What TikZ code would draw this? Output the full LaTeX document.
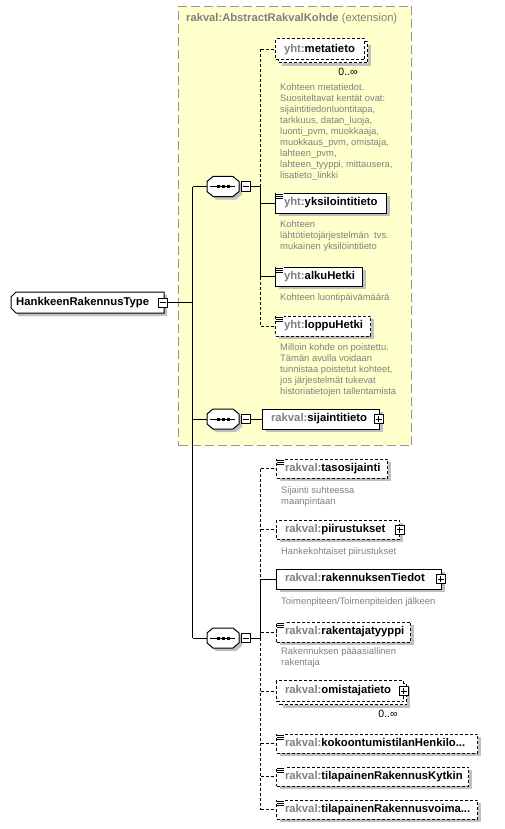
\documentclass[tikz,border=0pt]{standalone}
\usepackage{fontspec}
\setmainfont{Liberation Sans}
\usetikzlibrary{shadows}
\definecolor{ylw}{RGB}{255,255,204}
\definecolor{shd}{RGB}{192,192,192}
\definecolor{pfxc}{RGB}{128,128,128}
\definecolor{dsc}{RGB}{128,128,128}
\definecolor{ebrd}{RGB}{150,150,150}
\newcommand{\en}[2]{\mbox{\textcolor{pfxc}{#1}#2}}
\newcommand{\mnbox}[2]{\node[pm] (#1) at (#2) {};
  \draw[line width=1pt] ([xshift=2pt]#1.west) -- ([xshift=-2pt]#1.east);}
\newcommand{\plbox}[2]{\node[pm] (#1) at (#2) {};
  \draw[line width=1pt] ([xshift=2pt]#1.west) -- ([xshift=-2pt]#1.east);
  \draw[line width=1pt] ([yshift=-2pt]#1.north) -- ([yshift=2pt]#1.south);}
\newcommand{\lnicon}[1]{\fill[white] ([xshift=0.5pt,yshift=-0.5pt]#1.north west) rectangle ++(8,7);
  \foreach \k in {1.5,3.5,5.5} \draw[line width=0.9pt] ([xshift=1pt,yshift=-\k pt]#1.north west) -- ++(7,0);}
\tikzset{
  elns/.style={draw=black, line width=1pt, fill=white, anchor=west, inner xsep=8.5pt, inner ysep=0pt,
    text height=8.3pt, text depth=2.4pt, align=left, font=\fontsize{11.3}{13}\selectfont\bfseries},
  elbox/.style={elns, drop shadow={shadow xshift=3pt, shadow yshift=-3pt, fill=shd, opacity=1}},
  opt/.style={dash pattern=on 3pt off 2pt},
  ln/.style={line width=1pt},
  desc/.style={anchor=north west, inner sep=0pt, align=left, text=dsc, font=\fontsize{9.4}{11}\selectfont},
  pm/.style={draw=black, fill=white, line width=1pt, minimum size=9pt, inner sep=0pt},
  seqn/.style={minimum width=32pt, minimum height=20pt, inner sep=0pt},
  occ/.style={anchor=center, inner sep=0pt, font=\fontsize{10.5}{12}\selectfont},
  seqpic/.pic={
    \fill[shd] (-7,-7) -- (13,-7) -- (19,-2) -- (19,8) -- (13,13) -- (-7,13) -- (-13,8) -- (-13,-2) -- cycle;
    \draw[line width=1pt, fill=white] (-10,-10) -- (10,-10) -- (16,-5) -- (16,5) -- (10,10) -- (-10,10) -- (-16,5) -- (-16,-5) -- cycle;
    \draw[line width=1pt] (-13,0) -- (12,0);
    \fill (-6,-1.5) rectangle ++(3,3);
    \fill (-1,-1.5) rectangle ++(3,3);
    \fill (4,-1.5) rectangle ++(3,3);
  },
}
\begin{document}
\begin{tikzpicture}[x=1pt,y=-1pt]
\useasboundingbox (0,0) rectangle (505,829);
\fill[white] (0,0) rectangle (505,829);

% extension box
\node[draw=ebrd, line width=1pt, dash pattern=on 9pt off 4pt, fill=ylw, anchor=north west,
  minimum width=233pt, minimum height=439pt, inner sep=0pt] (ext) at (178,6) {};
\node[anchor=west, inner sep=0pt, text=pfxc, font=\fontsize{11.2}{13}\selectfont] (exttitle) at (186,19)
  {\textbf{rakval:AbstractRakvalKohde} (extension)};

% root
\fill[shd] (19,295) -- (167,295) -- (167,316) -- (19,316) -- (14,311) -- (14,300) -- cycle;
\draw[line width=1pt, fill=white] (16,292) -- (164,292) -- (164,313) -- (16,313) -- (11,308) -- (11,297) -- cycle;
\node[anchor=west, inner xsep=5pt, inner ysep=0pt, minimum height=21pt, font=\fontsize{11.3}{13}\selectfont\bfseries] (hank) at (11,302.5) {HankkeenRakennusType};
\mnbox{hm}{163,302.5}

% sequences
\pic at (223,186.5) {seqpic};
\node[seqn] (s1) at (223,186.5) {};
\mnbox{s1m}{245.5,186.5}
\pic at (223,419) {seqpic};
\node[seqn] (s2) at (223,419) {};
\mnbox{s2m}{245.5,419}
\pic at (223,638) {seqpic};
\node[seqn] (s3) at (223,638) {};
\mnbox{s3m}{245.5,638}

\coordinate (b1t) at (192.5,186.5);
\coordinate (b1b) at (192.5,638);
\coordinate (c1) at (260.5,186.5);
\coordinate (c3) at (260.5,638);

% elements of first sequence
\node[elbox, opt, text width=72pt, minimum height=21pt] (metaB) at (278,52.5) {};
\node[elns, opt, text width=72pt, minimum height=21pt] (meta) at (275,49.5) {\en{yht:}{metatieto}};
\node[occ] (occ1) at (348,72) {0..∞};
\node[elbox, text width=94pt, minimum height=20pt] (yksi) at (275,203) {\en{yht:}{yksilointitieto}};
\lnicon{yksi}
\node[elbox, text width=70pt, minimum height=19pt] (alku) at (275,276.5) {\en{yht:}{alkuHetki}};
\lnicon{alku}
\node[elbox, opt, text width=78pt, minimum height=20pt] (loppu) at (275,326) {\en{yht:}{loppuHetki}};
\lnicon{loppu}

\node[desc] (d1) at (280,83.5) {Kohteen metatiedot.\\Suositeltavat kentät ovat:\\sijaintitiedonluontitapa,\\tarkkuus, datan\_luoja,\\luonti\_pvm, muokkaaja,\\muokkaus\_pvm, omistaja,\\lahteen\_pvm,\\lahteen\_tyyppi, mittausera,\\lisatieto\_linkki};
\node[desc] (d2) at (280,220) {Kohteen\\lähtötietojärjestelmän\ \ tvs.\\mukainen yksilöintitieto};
\node[desc] (d3) at (280,293) {Kohteen luontipäivämäärä};
\node[desc] (d4) at (280,343) {Milloin kohde on poistettu.\\Tämän avulla voidaan\\tunnistaa poistetut kohteet,\\jos järjestelmät tukevat\\historiatietojen tallentamista};

% second sequence element
\node[elbox, text width=100pt, minimum height=20pt] (sij) at (262,419) {\en{rakval:}{sijaintitieto}};
\plbox{sijp}{378.5,419}

% third sequence elements
\node[elbox, opt, text width=94pt, minimum height=19pt] (taso) at (276,468.5) {\en{rakval:}{tasosijainti}};
\lnicon{taso}
\node[elbox, opt, text width=106pt, minimum height=19pt] (piir) at (276,529.5) {\en{rakval:}{piirustukset}};
\plbox{piirp}{399.5,529.5}
\node[elbox, text width=148pt, minimum height=20pt] (rakT) at (276,579) {\en{rakval:}{rakennuksenTiedot}};
\plbox{rakTp}{440.5,579}
\node[elbox, opt, text width=117pt, minimum height=20pt] (rakty) at (276,632) {\en{rakval:}{rakentajatyyppi}};
\lnicon{rakty}
\node[elbox, opt, text width=110pt, minimum height=21pt] (omisB) at (279,694) {};
\node[elns, opt, text width=110pt, minimum height=21pt] (omis) at (276,691) {\en{rakval:}{omistajatieto}};
\plbox{omisp}{403.5,691}
\node[occ] (occ2) at (388,713.5) {0..∞};
\node[elbox, opt, text width=184pt, minimum height=19pt] (koko) at (276,743.5) {\en{rakval:}{kokoontumistilanHenkilo...}};
\lnicon{koko}
\node[elbox, opt, text width=175pt, minimum height=19pt] (kyt) at (276,776.5) {\en{rakval:}{tilapainenRakennusKytkin}};
\lnicon{kyt}
\node[elbox, opt, text width=184pt, minimum height=19pt] (voima) at (276,809.5) {\en{rakval:}{tilapainenRakennusvoima...}};
\lnicon{voima}

\node[desc] (d5) at (281,486) {Sijainti suhteessa\\maanpintaan};
\node[desc] (d6) at (281,547) {Hankekohtaiset piirustukset};
\node[desc] (d7) at (281,597) {Toimenpiteen/Toimenpiteiden jälkeen};
\node[desc] (d8) at (281,647) {Rakennuksen pääasiallinen\\rakentaja};

% connectors
\draw[ln] (hm.east) -- (hm.east -| b1t);
\draw[ln] (b1t) -- (b1b);
\draw[ln] (b1t) -- (s1.west);
\draw[ln] (s2.west -| b1t) -- (s2.west);
\draw[ln] (b1b) -- (s3.west);

\draw[ln] (s1m.east) -- (c1);
\draw[ln,opt] (meta.west -| c1) -- (c1);
\draw[ln] (c1) -- (alku.west -| c1);
\draw[ln,opt] (alku.west -| c1) -- (loppu.west -| c1);
\draw[ln,opt] (meta.west -| c1) -- (meta.west);
\draw[ln] (yksi.west -| c1) -- (yksi.west);
\draw[ln] (alku.west -| c1) -- (alku.west);
\draw[ln,opt] (loppu.west -| c1) -- (loppu.west);

\draw[ln] (s2m.east) -- (sij.west);

\draw[ln] (s3m.east) -- (c3);
\draw[ln,opt] (taso.west -| c3) -- (rakT.west -| c3);
\draw[ln] (rakT.west -| c3) -- (c3);
\draw[ln,opt] (c3) -- (voima.west -| c3);
\draw[ln,opt] (taso.west -| c3) -- (taso.west);
\draw[ln,opt] (piir.west -| c3) -- (piir.west);
\draw[ln] (rakT.west -| c3) -- (rakT.west);
\draw[ln,opt] (rakty.west -| c3) -- (rakty.west);
\draw[ln,opt] (omis.west -| c3) -- (omis.west);
\draw[ln,opt] (koko.west -| c3) -- (koko.west);
\draw[ln,opt] (kyt.west -| c3) -- (kyt.west);
\draw[ln,opt] (voima.west -| c3) -- (voima.west);
\end{tikzpicture}
\end{document}
